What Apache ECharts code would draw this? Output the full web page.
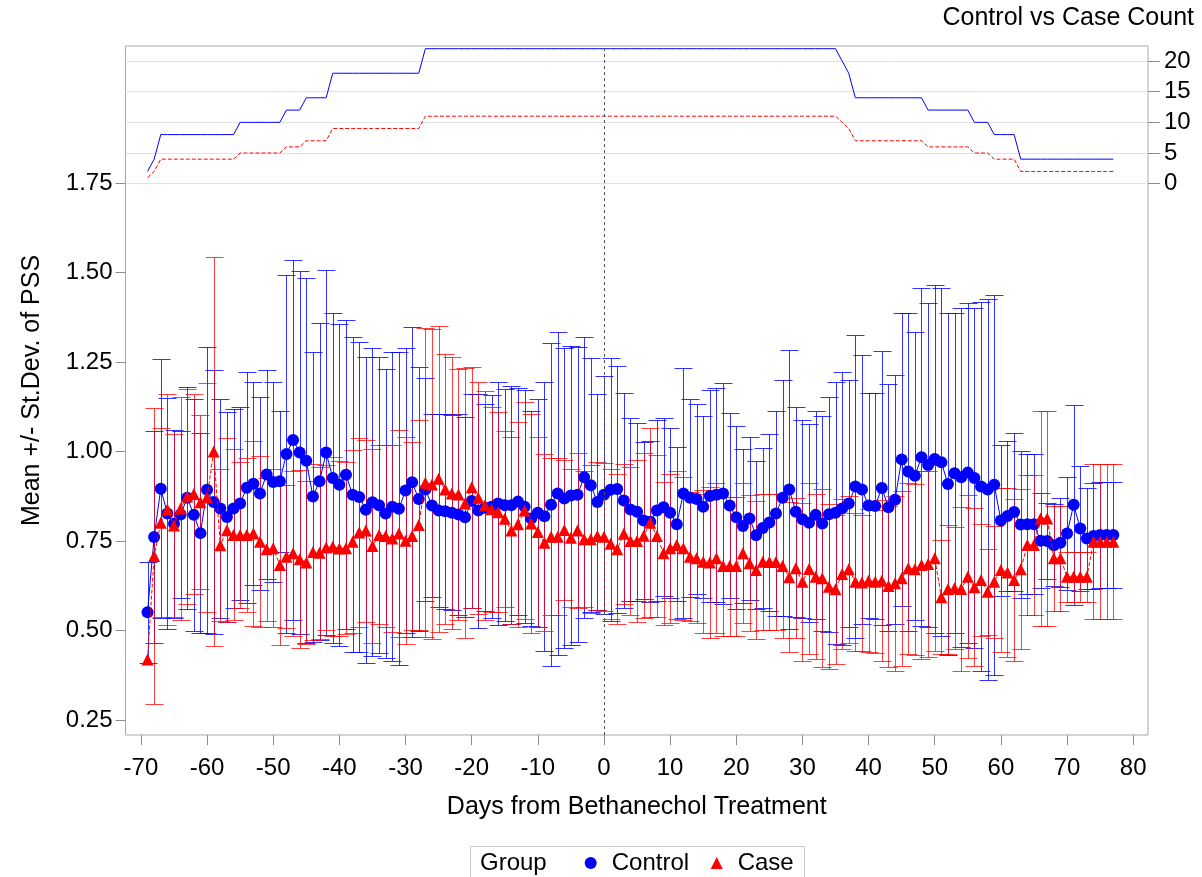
<!DOCTYPE html>
<html><head><meta charset="utf-8">
<script src="https://cdn.jsdelivr.net/npm/echarts@6/dist/echarts.min.js"></script>
<style>html,body{margin:0;padding:0;background:#fff}#c{width:1202px;height:877px}</style>
</head><body><div id="c"></div>
<script>
// ---- data ----
const days = [-69,-68,-67,-66,-65,-64,-63,-62,-61,-60,-59,-58,-57,-56,-55,-54,-53,-52,-51,-50,
-49,-48,-47,-46,-45,-44,-43,-42,-41,-40,-39,-38,-37,-36,-35,-34,-33,-32,-31,-30,
-29,-28,-27,-26,-25,-24,-23,-22,-21,-20,-19,-18,-17,-16,-15,-14,-13,-12,-11,-10,
-9,-8,-7,-6,-5,-4,-3,-2,-1,0,1,2,3,4,5,6,7,8,9,10,11,12,13,14,15,16,17,18,19,20,
21,22,23,24,25,26,27,28,29,30,31,32,33,34,35,36,37,38,39,40,41,42,43,44,45,46,47,48,49,50,
51,52,53,54,55,56,57,58,59,60,61,62,63,64,65,66,67,68,69,70,71,72,73,74,75,76,77];

const ctrlMean = [0.551,0.761,0.896,0.827,0.798,0.824,0.871,0.823,0.772,0.893,
0.859,0.841,0.817,0.841,0.855,0.899,0.910,0.883,0.936,0.915,
0.917,0.993,1.032,0.997,0.974,0.874,0.917,0.997,0.926,0.907,
0.935,0.879,0.873,0.837,0.858,0.850,0.827,0.846,0.840,0.891,
0.914,0.867,0.894,0.849,0.835,0.833,0.829,0.824,0.816,0.862,
0.835,0.843,0.846,0.855,0.850,0.850,0.860,0.846,0.813,0.829,
0.819,0.851,0.883,0.869,0.877,0.879,0.928,0.906,0.859,0.879,
0.893,0.895,0.863,0.838,0.832,0.807,0.804,0.835,0.844,0.829,
0.797,0.883,0.871,0.867,0.846,0.876,0.879,0.883,0.849,0.816,
0.792,0.813,0.766,0.786,0.802,0.827,0.871,0.894,0.832,0.811,
0.801,0.823,0.799,0.825,0.829,0.841,0.855,0.902,0.894,0.849,
0.848,0.898,0.844,0.865,0.978,0.944,0.932,0.984,0.962,0.979,
0.970,0.909,0.939,0.928,0.941,0.926,0.902,0.894,0.907,0.807,
0.820,0.831,0.796,0.797,0.797,0.751,0.750,0.738,0.745,0.771,
0.851,0.785,0.757,0.764,0.767,0.767,0.767];

const ctrlSD = [0.141,0.296,0.361,0.322,0.262,0.234,0.310,0.323,0.279,0.400,
0.369,0.305,0.292,0.277,0.270,0.322,0.283,0.270,0.292,0.280,
0.197,0.500,0.503,0.507,0.510,0.405,0.443,0.510,0.460,0.449,
0.431,0.440,0.434,0.428,0.430,0.413,0.403,0.431,0.437,0.397,
0.433,0.368,0.312,0.256,0.270,0.272,0.272,0.282,0.279,0.300,
0.327,0.289,0.312,0.340,0.324,0.333,0.318,0.326,0.300,0.319,
0.376,0.451,0.452,0.419,0.418,0.412,0.393,0.354,0.303,0.332,
0.367,0.345,0.301,0.255,0.249,0.220,0.225,0.253,0.249,0.238,
0.215,0.349,0.277,0.265,0.254,0.296,0.299,0.309,0.258,0.255,
0.214,0.228,0.207,0.223,0.247,0.286,0.330,0.389,0.293,0.277,
0.276,0.291,0.301,0.328,0.366,0.382,0.345,0.423,0.376,0.314,
0.315,0.384,0.344,0.348,0.410,0.444,0.402,0.472,0.452,0.486,
0.486,0.477,0.447,0.474,0.475,0.474,0.516,0.531,0.530,0.211,
0.209,0.220,0.205,0.196,0.196,0.132,0.107,0.115,0.124,0.157,
0.279,0.175,0.140,0.149,0.149,0.149,0.149];

const caseMean = [0.419,0.708,0.801,0.838,0.793,0.841,0.874,0.881,0.858,0.872,
1.000,0.738,0.780,0.767,0.767,0.767,0.771,0.748,0.727,0.730,
0.683,0.706,0.716,0.699,0.690,0.719,0.717,0.732,0.734,0.729,
0.730,0.748,0.774,0.779,0.736,0.767,0.764,0.757,0.771,0.751,
0.764,0.795,0.913,0.908,0.924,0.894,0.883,0.880,0.855,0.900,
0.871,0.849,0.839,0.830,0.812,0.779,0.797,0.835,0.799,0.775,
0.745,0.762,0.762,0.781,0.759,0.779,0.755,0.755,0.764,0.762,
0.742,0.727,0.770,0.750,0.750,0.765,0.801,0.764,0.716,0.730,
0.739,0.730,0.706,0.702,0.692,0.690,0.702,0.680,0.680,0.680,
0.716,0.688,0.669,0.692,0.691,0.691,0.680,0.649,0.674,0.636,
0.672,0.650,0.646,0.622,0.615,0.658,0.671,0.636,0.634,0.639,
0.636,0.639,0.624,0.632,0.646,0.674,0.671,0.683,0.686,0.702,
0.593,0.615,0.618,0.616,0.650,0.621,0.641,0.608,0.636,0.669,
0.662,0.641,0.671,0.739,0.739,0.813,0.813,0.702,0.702,0.650,
0.650,0.650,0.650,0.748,0.748,0.748,0.748];

const caseSD = [null,0.413,0.264,0.322,0.255,0.312,0.300,0.280,0.243,0.320,
0.542,0.212,0.257,0.239,0.205,0.214,0.259,0.239,0.200,0.220,
0.223,0.200,0.230,0.249,0.228,0.245,0.240,0.230,0.250,0.245,
0.240,0.255,0.265,0.254,0.270,0.250,0.255,0.260,0.290,0.290,
0.262,0.293,0.431,0.433,0.427,0.377,0.380,0.351,0.377,0.337,
0.324,0.321,0.286,0.279,0.245,0.261,0.286,0.304,0.307,0.266,
0.247,0.219,0.219,0.195,0.192,0.216,0.190,0.207,0.207,0.207,
0.210,0.210,0.195,0.206,0.226,0.230,0.264,0.226,0.200,0.208,
0.206,0.200,0.180,0.180,0.200,0.210,0.210,0.194,0.194,0.194,
0.195,0.190,0.194,0.190,0.190,0.190,0.200,0.210,0.195,0.220,
0.239,0.230,0.248,0.230,0.209,0.210,0.205,0.192,0.190,0.200,
0.200,0.225,0.225,0.245,0.245,0.239,0.239,0.262,0.260,0.260,
0.160,0.180,0.170,0.230,0.228,0.220,0.156,0.121,0.156,0.230,
0.235,0.225,0.223,0.195,0.195,0.301,0.301,0.147,0.147,0.070,
0.070,0.070,0.070,0.216,0.216,0.216,0.216];

const ctrlCount = [2,4,8,8,8,8,8,8,8,8,8,8,8,8,10,10,10,10,10,10,
10,12,12,12,14,14,14,14,18,18,18,18,18,18,18,18,18,18,18,18,
18,18,22,22,22,22,22,22,22,22,22,22,22,22,22,22,22,22,22,22,
22,22,22,22,22,22,22,22,22,22,22,22,22,22,22,22,22,22,22,22,
22,22,22,22,22,22,22,22,22,22,22,22,22,22,22,22,22,22,22,22,
22,22,22,22,22,20,18,14,14,14,14,14,14,14,14,14,14,14,12,12,
12,12,12,12,12,10,10,10,8,8,8,8,4,4,4,4,4,4,4,4,
4,4,4,4,4,4,4];

const caseCount = [1,2,4,4,4,4,4,4,4,4,4,4,4,4,5,5,5,5,5,5,
5,6,6,6,7,7,7,7,9,9,9,9,9,9,9,9,9,9,9,9,
9,9,11,11,11,11,11,11,11,11,11,11,11,11,11,11,11,11,11,11,
11,11,11,11,11,11,11,11,11,11,11,11,11,11,11,11,11,11,11,11,
11,11,11,11,11,11,11,11,11,11,11,11,11,11,11,11,11,11,11,11,
11,11,11,11,11,10,9,7,7,7,7,7,7,7,7,7,7,7,6,6,
6,6,6,6,6,5,5,5,4,4,4,4,2,2,2,2,2,2,2,2,
2,2,2,2,2,2,2];

const xTicks = [-70,-60,-50,-40,-30,-20,-10,0,10,20,30,40,50,60,70,80];
const yTicks = [0.25,0.50,0.75,1.00,1.25,1.50,1.75];
const countTicks = [0,5,10,15,20];

// ---- layout ----
const FONT = '"Liberation Sans", Arial, Helvetica, sans-serif';
const XMIN = -72.33, XMAX = 82.24;
const YMIN = 0.2081, YMAX = 2.1327;
const CMAX = 22.44;
const BLUE = '#0000ff', RED = '#ff0000';
const TICKC = '#8c8c8c';
const TICKFS = 24, TITLEFS = 25;

function errRender(color) {
  return function (params, api) {
    const sd = api.value(2);
    if (sd == null || isNaN(sd) || sd <= 0) return null;
    const x = api.value(0), m = api.value(1);
    const t = api.coord([x, m + sd]);
    const b = api.coord([x, m - sd]);
    const px = Math.round(t[0]) + 0.5;
    const yt = Math.round(t[1]) + 0.5, yb = Math.round(b[1]) + 0.5;
    const hw = 9;
    const style = { stroke: color, lineWidth: 1, fill: null };
    return { type: 'group', children: [
      { type: 'line', shape: { x1: px, y1: yt, x2: px, y2: yb }, style: style },
      { type: 'line', shape: { x1: px - hw, y1: yt, x2: px + hw, y2: yt }, style: style },
      { type: 'line', shape: { x1: px - hw, y1: yb, x2: px + hw, y2: yb }, style: style }
    ]};
  };
}

const chart = echarts.init(document.getElementById('c'), null, { renderer: 'canvas' });
const option = {
  animation: false,
  backgroundColor: '#ffffff',
  textStyle: { fontFamily: FONT, color: '#000' },
  title: {
    text: 'Control vs Case Count', right: 8, top: 6, padding: 0,
    textStyle: { fontFamily: FONT, fontSize: TITLEFS, fontWeight: 'normal', color: '#000' }
  },
  grid: [
    { left: 125.5, right: 54, top: 46, bottom: 142, show: true, borderColor: '#a8a8a8', borderWidth: 1, backgroundColor: 'transparent' },
    { left: 125.5, right: 54, top: 46, bottom: 693.3, show: false }
  ],
  xAxis: [
    { type: 'value', gridIndex: 0, min: XMIN, max: XMAX,
      axisLine: { show: false, onZero: false }, splitLine: { show: false },
      axisTick: { show: true, length: 10, lineStyle: { color: TICKC }, customValues: xTicks },
      axisLabel: { customValues: xTicks, fontSize: TICKFS, color: '#000', margin: 21, fontFamily: FONT },
      name: 'Days from Bethanechol Treatment', nameLocation: 'middle', nameGap: 60,
      nameTextStyle: { fontSize: TITLEFS, color: '#000', fontFamily: FONT } },
    { type: 'value', gridIndex: 1, min: XMIN, max: XMAX, show: false, axisLine: { onZero: false } }
  ],
  yAxis: [
    { type: 'value', gridIndex: 0, position: 'left', min: YMIN, max: YMAX,
      axisLine: { show: false, onZero: false }, splitLine: { show: false },
      axisTick: { show: true, length: 10, lineStyle: { color: TICKC }, customValues: yTicks },
      axisLabel: { customValues: yTicks, fontSize: TICKFS, color: '#000', margin: 13, fontFamily: FONT,
        formatter: function (v) { return Number(v).toFixed(2); } },
      name: 'Mean +/- St.Dev. of PSS', nameLocation: 'middle', nameGap: 81, nameRotate: 90,
      nameTextStyle: { fontSize: TITLEFS, color: '#000', fontFamily: FONT } },
    { type: 'value', gridIndex: 1, position: 'right', min: 0, max: CMAX, interval: 5,
      axisLine: { show: false, onZero: false },
      splitLine: { show: true, lineStyle: { color: '#e2e2e2', width: 1 } },
      axisTick: { show: true, length: 12, lineStyle: { color: TICKC }, customValues: countTicks },
      axisLabel: { customValues: countTicks, fontSize: TICKFS, color: '#000', margin: 16, fontFamily: FONT } }
  ],
  legend: {
    data: [{ name: 'Control', icon: 'circle' }, { name: 'Case', icon: 'triangle' }],
    left: 584.7, top: 851, padding: 0, itemWidth: 12, itemHeight: 12, itemGap: 21.6,
    textStyle: { fontSize: 24, color: '#000', fontFamily: FONT, padding: [0, 0, 0, 10] },
    z: 10
  },
  graphic: [
    { type: 'rect', z: 1, shape: { x: 470.5, y: 846.5, width: 334, height: 50 },
      style: { fill: '#ffffff', stroke: '#c8c8c8', lineWidth: 1 } },
    { type: 'text', z: 2, x: 480, y: 863,
      style: { text: 'Group', fontSize: 24, fontFamily: FONT, fill: '#000', textVerticalAlign: 'middle', verticalAlign: 'middle' } }
  ],
  series: [
    { name: 'Control SD', type: 'custom', xAxisIndex: 0, yAxisIndex: 0, z: 2,
      renderItem: errRender('rgba(0,0,255,0.8)'), encode: { x: 0, y: 1 },
      data: days.map(function (d, i) { return [d, ctrlMean[i], ctrlSD[i] == null ? NaN : ctrlSD[i]]; }) },
    { name: 'Case SD', type: 'custom', xAxisIndex: 0, yAxisIndex: 0, z: 2,
      renderItem: errRender('rgba(255,0,0,0.75)'), encode: { x: 0, y: 1 },
      data: days.map(function (d, i) { return [d, caseMean[i], caseSD[i] == null ? NaN : caseSD[i]]; }) },
    { name: 'Control', type: 'line', xAxisIndex: 0, yAxisIndex: 0, z: 4,
      data: days.map(function (d, i) { return [d, ctrlMean[i]]; }),
      symbol: 'circle', symbolSize: 12, showAllSymbol: true,
      itemStyle: { color: BLUE }, lineStyle: { color: BLUE, width: 1 },
      markLine: { silent: true, symbol: 'none', label: { show: false },
        lineStyle: { color: '#555555', type: [3, 3], width: 1 },
        data: [{ xAxis: 0 }] } },
    { name: 'Case', type: 'line', xAxisIndex: 0, yAxisIndex: 0, z: 5,
      data: days.map(function (d, i) { return [d, caseMean[i]]; }),
      symbol: 'triangle', symbolSize: 12, showAllSymbol: true,
      itemStyle: { color: RED }, lineStyle: { color: RED, width: 1, type: [4, 2] } },
    { name: 'Control Count', type: 'line', xAxisIndex: 1, yAxisIndex: 1, z: 3,
      data: days.map(function (d, i) { return [d, ctrlCount[i]]; }),
      symbol: 'none', lineStyle: { color: BLUE, width: 1 } },
    { name: 'Case Count', type: 'line', xAxisIndex: 1, yAxisIndex: 1, z: 3,
      data: days.map(function (d, i) { return [d, caseCount[i]]; }),
      symbol: 'none', lineStyle: { color: RED, width: 1, type: [4, 2] } }
  ]
};
chart.setOption(option);
</script>
</body></html>
